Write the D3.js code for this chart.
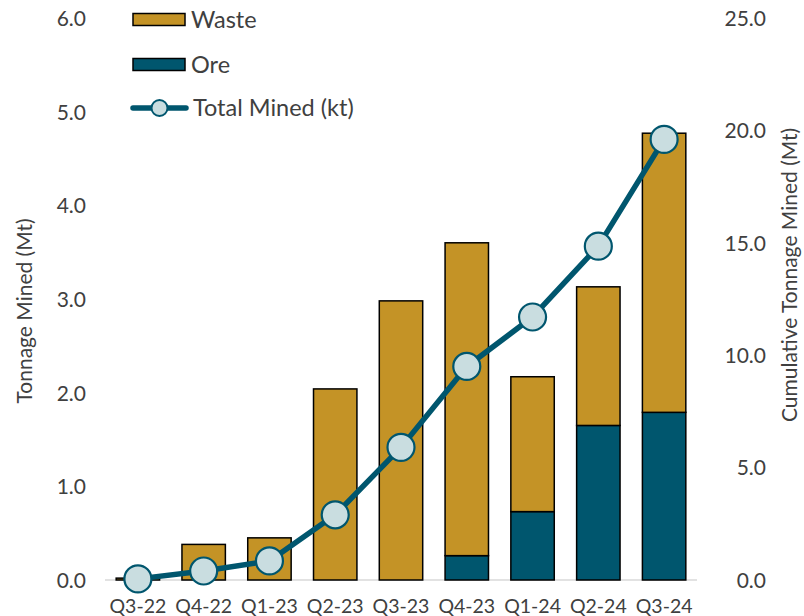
<!DOCTYPE html>
<html>
<head>
<meta charset="utf-8">
<script src="https://cdn.jsdelivr.net/npm/d3@7"></script>
<style>
  html, body { margin: 0; padding: 0; background: #fff; }
  svg text { font-family: Lato, "Open Sans", "DejaVu Sans", sans-serif; fill: #404040; }
</style>
</head>
<body>
<svg id="chart" width="804" height="616"></svg>
<script>
// Quarterly tonnage mined (Mt), stacked ore + waste
const quarters = ["Q3-22", "Q4-22", "Q1-23", "Q2-23", "Q3-23", "Q4-23", "Q1-24", "Q2-24", "Q3-24"];
const ore   = [0.00, 0.00, 0.00, 0.00, 0.00, 0.26, 0.73, 1.65, 1.79];
const waste = [0.02, 0.38, 0.45, 2.04, 2.98, 3.34, 1.44, 1.48, 2.98];
// Cumulative total mined (Mt), right axis
const cumulative = [0.05, 0.40, 0.85, 2.90, 5.90, 9.50, 11.70, 14.85, 19.60];

const leftTicks  = [0, 1, 2, 3, 4, 5, 6];
const rightTicks = [0, 5, 10, 15, 20, 25];

const colors = { waste: "#c49326", ore: "#00566e", line: "#00566e", marker: "#c9dde0", text: "#404040" };

const svg = d3.select("#chart");
const plot = { left: 105, right: 697, top: 18, bottom: 580 };

const x = d3.scaleBand().domain(quarters).range([plot.left, plot.right]).padding(0);
const yL = d3.scaleLinear().domain([0, 6]).range([plot.bottom, plot.top]);
const yR = d3.scaleLinear().domain([0, 25]).range([plot.bottom, plot.top]);

const barW = x.bandwidth() * 0.66;
const barX = q => x(q) + (x.bandwidth() - barW) / 2;

// Baseline
svg.append("line")
  .attr("x1", plot.left).attr("x2", plot.right)
  .attr("y1", plot.bottom).attr("y2", plot.bottom)
  .attr("stroke", "#d9d9d9").attr("stroke-width", 1.5);

// Stacked bars
const rows = quarters.map((q, i) => ({ q, ore: ore[i], waste: waste[i] }));
const stack = d3.stack().keys(["ore", "waste"])(rows);
const g = svg.append("g");
stack.forEach(layer => {
  g.append("g").selectAll("rect")
    .data(layer.filter(d => d[1] - d[0] > 0))
    .join("rect")
    .attr("x", d => barX(d.data.q))
    .attr("width", barW)
    .attr("y", d => yL(d[1]))
    .attr("height", d => yL(d[0]) - yL(d[1]))
    .attr("fill", colors[layer.key])
    .attr("stroke", "#000")
    .attr("stroke-width", 1.5);
});

// Cumulative line
const cx = q => x(q) + x.bandwidth() / 2;
const line = d3.line().x((d, i) => cx(quarters[i])).y(d => yR(d));
svg.append("path")
  .datum(cumulative)
  .attr("d", line)
  .attr("fill", "none")
  .attr("stroke", colors.line)
  .attr("stroke-width", 5.5)
  .attr("stroke-linejoin", "round");
svg.append("g").selectAll("circle")
  .data(cumulative)
  .join("circle")
  .attr("cx", (d, i) => cx(quarters[i]))
  .attr("cy", d => yR(d))
  .attr("r", 13.5)
  .attr("fill", colors.marker)
  .attr("stroke", colors.line)
  .attr("stroke-width", 2.2);

// Left axis
const axL = svg.append("g").attr("transform", `translate(${plot.left - 19},0)`)
  .call(d3.axisLeft(yL).tickValues(leftTicks).tickFormat(d3.format(".1f")).tickSize(0));
axL.select(".domain").remove();
axL.selectAll("text").attr("font-size", 21).attr("dy", "0.35em").attr("x", 0);

// Right axis
const axR = svg.append("g").attr("transform", `translate(${plot.right + 69},0)`)
  .call(d3.axisLeft(yR).tickValues(rightTicks).tickFormat(d3.format(".1f")).tickSize(0));
axR.select(".domain").remove();
axR.selectAll("text").attr("font-size", 21).attr("dy", "0.35em").attr("x", 0);

// Bottom axis
const axB = svg.append("g").attr("transform", `translate(0,${plot.bottom})`)
  .call(d3.axisBottom(x).tickSize(0));
axB.select(".domain").remove();
axB.selectAll("text").attr("font-size", 19.5).attr("y", 26).attr("dy", "0.35em");

// Axis titles
svg.append("text")
  .attr("transform", `translate(32,311) rotate(-90)`)
  .attr("text-anchor", "middle")
  .attr("font-size", 21)
  .text("Tonnage Mined (Mt)");
svg.append("text")
  .attr("transform", `translate(797,275) rotate(-90)`)
  .attr("text-anchor", "middle")
  .attr("font-size", 21)
  .text("Cumulative Tonnage Mined (Mt)");

// Legend
const legend = svg.append("g");
[["Waste", colors.waste, 19.5], ["Ore", colors.ore, 64.5]].forEach(([label, c, y]) => {
  legend.append("rect")
    .attr("x", 133).attr("y", y - 6).attr("width", 52).attr("height", 12)
    .attr("fill", c).attr("stroke", "#000").attr("stroke-width", 1.5);
  legend.append("text")
    .attr("x", 191).attr("y", y).attr("dy", "0.35em")
    .attr("font-size", 23.5).text(label);
});
legend.append("line")
  .attr("x1", 133).attr("x2", 186).attr("y1", 108).attr("y2", 108)
  .attr("stroke", colors.line).attr("stroke-width", 5.5).attr("stroke-linecap", "round");
legend.append("circle")
  .attr("cx", 159.5).attr("cy", 108).attr("r", 8)
  .attr("fill", colors.marker).attr("stroke", colors.line).attr("stroke-width", 2);
legend.append("text")
  .attr("x", 193).attr("y", 108).attr("dy", "0.35em")
  .attr("font-size", 23.5).text("Total Mined (kt)");
</script>
</body>
</html>
